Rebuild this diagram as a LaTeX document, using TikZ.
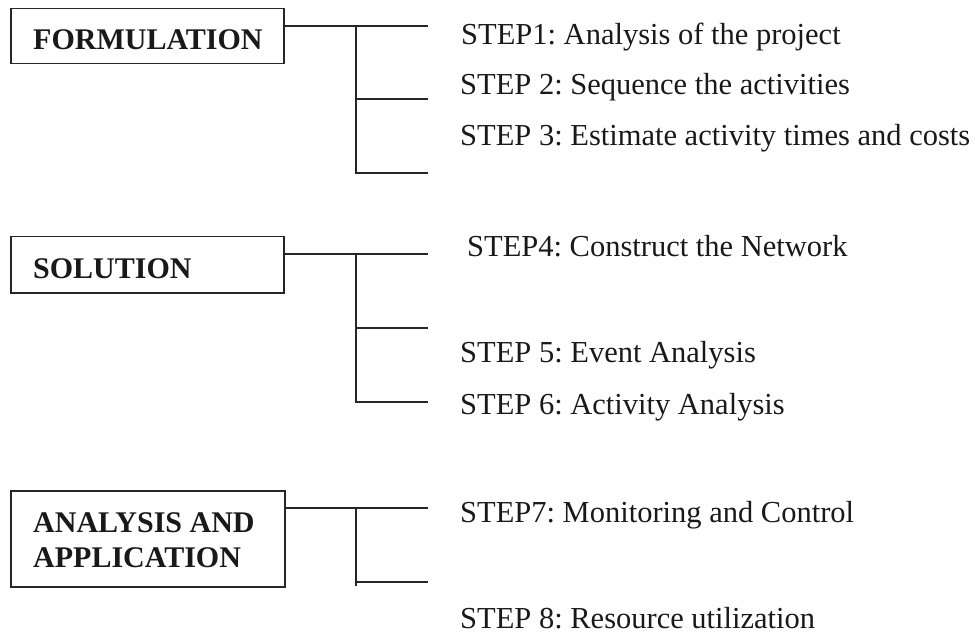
\documentclass[tikz,border=0pt]{standalone}
\usepackage{fontspec}
\setmainfont{Liberation Serif}
\frenchspacing
\begin{document}
\begin{tikzpicture}[x=1bp,y=-1bp,
  phasebox/.style={draw=black!85,line width=1.5bp,rectangle,inner sep=0pt,anchor=north west},
  phaselabel/.style={anchor=base west,inner sep=0pt,font=\fontsize{30bp}{35bp}\selectfont\bfseries,text=black!90},
  steplabel/.style={anchor=base west,inner sep=0pt,font=\fontsize{30.5bp}{35bp}\selectfont,text=black!90},
  link/.style={draw=black!85,line width=1.3bp}]
\useasboundingbox (0,0) rectangle (975,633);
% boxes
\node[phasebox,minimum width=273bp,minimum height=55bp] (b1) at (10,8) {};
\node[phasebox,minimum width=273bp,minimum height=56bp] (b2) at (10,236) {};
\node[phasebox,minimum width=274bp,minimum height=96bp] (b3) at (10,490) {};
\node[phaselabel] (l1) at (33,50) {FORMULATION};
\node[phaselabel] (l2) at (33,279) {SOLUTION};
\node[phaselabel] (l3a) at (33,532) {ANALYSIS AND};
\node[phaselabel] (l3b) at (33,567) {APPLICATION};
% junctions and branch ends
\coordinate (j1) at (356,26);  \coordinate (j1b) at (356,99);  \coordinate (j1c) at (356,173);
\coordinate (e1a) at (428,26); \coordinate (e1b) at (428,99);  \coordinate (e1c) at (428,173);
\coordinate (j2) at (356,254); \coordinate (j2b) at (356,328); \coordinate (j2c) at (356,402);
\coordinate (e2a) at (428,254); \coordinate (e2b) at (428,328); \coordinate (e2c) at (428,402);
\coordinate (j3) at (356,508); \coordinate (j3b) at (356,582); \coordinate (j3c) at (356,586);
\coordinate (e3a) at (428,508); \coordinate (e3b) at (428,582);
% connectors
\draw[link] (b1.east |- j1) -- (e1a);
\draw[link] (j1) -- (j1c) -- (e1c);
\draw[link] (j1b) -- (e1b);
\draw[link] (b2.east |- j2) -- (e2a);
\draw[link] (j2) -- (j2c) -- (e2c);
\draw[link] (j2b) -- (e2b);
\draw[link] (b3.east |- j3) -- (e3a);
\draw[link] (j3) -- (j3c);
\draw[link] (j3b) -- (e3b);
% steps
\node[steplabel] (s1) at (461,45) {STEP1: Analysis of the project};
\node[steplabel] (s2) at (460,95) {STEP 2: Sequence the activities};
\node[steplabel] (s3) at (460,146) {STEP 3: Estimate activity times and costs};
\node[steplabel] (s4) at (467,257) {STEP4: Construct the Network};
\node[steplabel] (s5) at (460,362) {STEP 5: Event Analysis};
\node[steplabel] (s6) at (460,414) {STEP 6: Activity Analysis};
\node[steplabel] (s7) at (460,522) {STEP7: Monitoring and Control};
\node[steplabel] (s8) at (460,628) {STEP 8: Resource utilization};
\end{tikzpicture}
\end{document}
